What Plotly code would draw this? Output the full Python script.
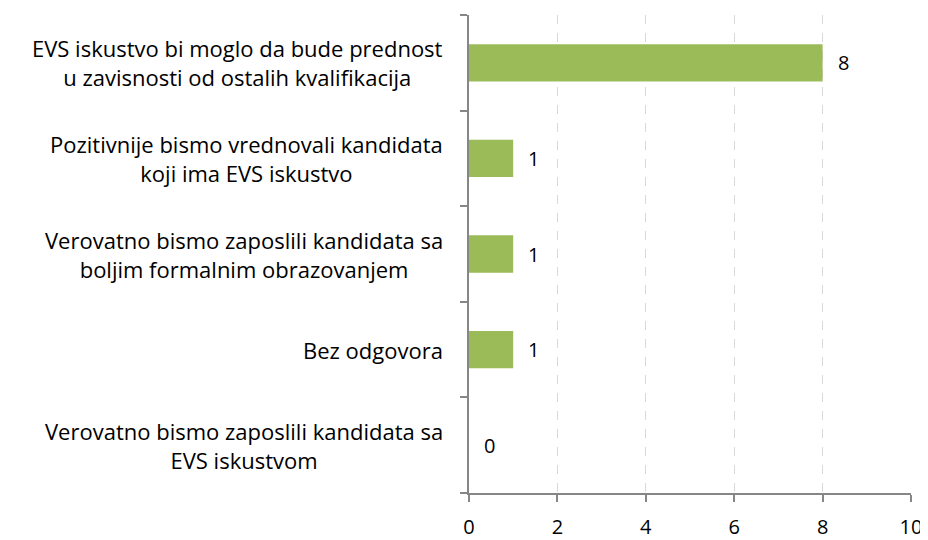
import plotly.graph_objects as go

categories = [
    "EVS iskustvo bi moglo da bude prednost<br>u zavisnosti od ostalih kvalifikacija",
    "Pozitivnije bismo vrednovali kandidata<br>koji ima EVS iskustvo",
    "Verovatno bismo zaposlili kandidata sa<br>boljim formalnim obrazovanjem",
    "Bez odgovora",
    "Verovatno bismo zaposlili kandidata sa<br>EVS iskustvom",
]
values = [8, 1, 1, 1, 0]
x_ticks = [0, 2, 4, 6, 8, 10]

FONT = "Open Sans"
FS = 22

fig = go.Figure()
fig.add_trace(go.Bar(
    y=categories, x=values, orientation="h",
    marker=dict(color="#9BBB59", line=dict(width=0)),
    width=0.39,
    hoverinfo="skip",
))

for c, v in zip(categories, values):
    fig.add_annotation(x=v, y=c, text=str(v), showarrow=False,
                       xanchor="left", yanchor="middle", xshift=13,
                       font=dict(family=FONT, size=20, color="#000000"))
    fig.add_annotation(x=0, xref="paper", y=c, text=c, showarrow=False,
                       xanchor="right", yanchor="middle", xshift=-24,
                       align="center",
                       font=dict(family=FONT, size=FS, color="#000000"))

# page body has an 8px default margin, so the figure is sized to fit the window
fig.update_layout(
    width=920, height=532,
    margin=dict(l=461, r=17, t=7, b=47, autoexpand=False),
    plot_bgcolor="white", paper_bgcolor="white",
    showlegend=False,
    font=dict(family=FONT, size=FS, color="#000000"),
)
fig.update_xaxes(
    range=[0, 10], tickvals=x_ticks, ticktext=[str(t) for t in x_ticks],
    showgrid=True, gridcolor="#D9D9D9", griddash="dash", gridwidth=1,
    showline=True, linecolor="#868686", linewidth=1.5,
    ticks="outside", ticklen=7, tickcolor="#868686", tickwidth=1.5,
    ticklabelstandoff=8, automargin=False,
    zeroline=False, tickfont=dict(family=FONT, size=20, color="#000000"),
)
fig.update_yaxes(
    categoryorder="array", categoryarray=categories[::-1],
    showline=True, linecolor="#868686", linewidth=1.5,
    ticks="outside", ticklen=7, tickcolor="#868686", tickwidth=1.5,
    tickson="boundaries", showticklabels=False, automargin=False,
    showgrid=False, zeroline=False,
)

fig.write_html("out.html")
